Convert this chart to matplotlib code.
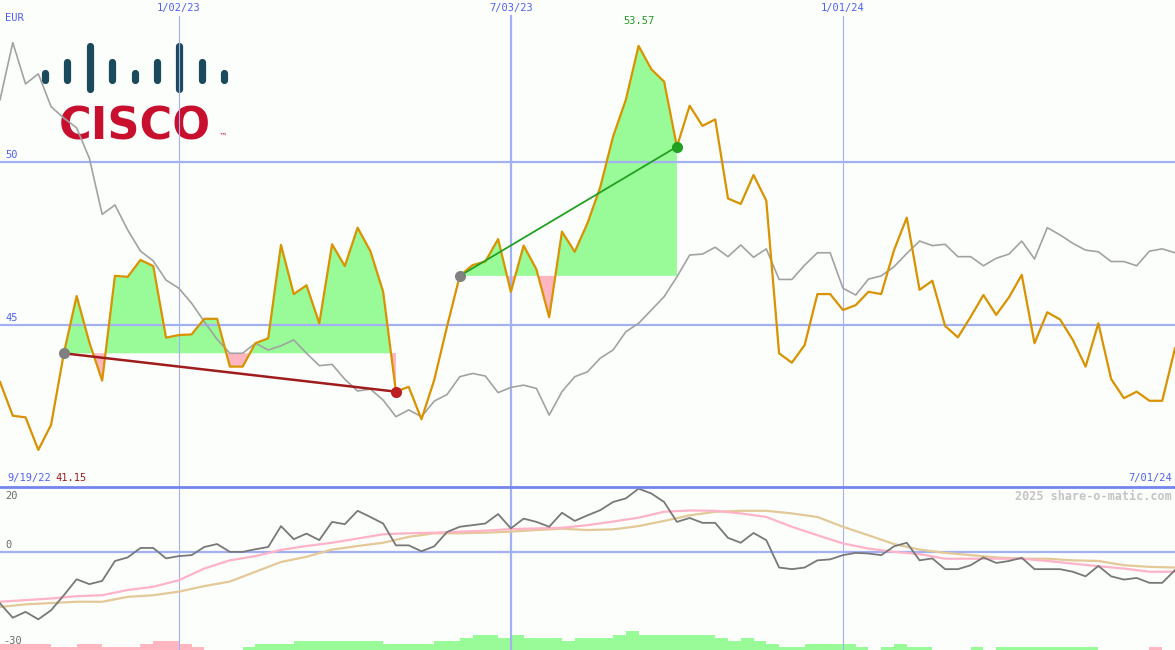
import numpy as np
import pandas as pd
import matplotlib
matplotlib.use("Agg")
import matplotlib.pyplot as plt

W, H = 1175, 650
MAIN_H = 487  # px height of the price panel

# --- weekly data ---
dates = pd.date_range("2022-09-26", periods=93, freq="7D")

price = [43.24, 42.20, 42.15, 41.15, 41.92, 44.12, 45.88, 44.45, 43.28, 46.50,
         46.47, 46.99, 46.80, 44.60, 44.68, 44.70, 45.18, 45.18, 43.71, 43.71,
         44.43, 44.58, 47.45, 45.94, 46.21, 45.04, 47.47, 46.80, 47.98, 47.26,
         46.01, 42.94, 43.09, 42.09, 43.30, 44.94, 46.50, 46.83, 46.94, 47.63,
         46.01, 47.43, 46.70, 45.23, 47.86, 47.24, 48.12, 49.23, 50.78, 51.91,
         53.57, 52.85, 52.47, 50.47, 51.73, 51.11, 51.31, 48.88, 48.71, 49.60,
         48.81, 44.12, 43.83, 44.37, 45.94, 45.94, 45.45, 45.60, 46.01, 45.94,
         47.29, 48.29, 46.07, 46.35, 44.96, 44.61, 45.24, 45.91, 45.30, 45.84,
         46.53, 44.43, 45.38, 45.16, 44.53, 43.71, 45.04, 43.33, 42.74, 42.94,
         42.66, 42.66, 44.27]

bench = [51.91, 53.67, 52.40, 52.71, 51.70, 51.35, 51.05, 50.11, 48.39, 48.68,
         47.91, 47.26, 46.96, 46.37, 46.12, 45.66, 45.09, 44.55, 44.12, 44.12,
         44.43, 44.22, 44.35, 44.53, 44.12, 43.74, 43.78, 43.32, 42.96, 43.02,
         42.68, 42.17, 42.38, 42.17, 42.65, 42.85, 43.40, 43.50, 43.42, 42.91,
         43.07, 43.14, 43.04, 42.22, 42.94, 43.40, 43.55, 43.97, 44.22, 44.78,
         45.04, 45.45, 45.86, 46.47, 47.14, 47.17, 47.38, 47.09, 47.45, 47.07,
         47.33, 46.39, 46.39, 46.83, 47.21, 47.21, 46.12, 45.91, 46.40, 46.50,
         46.78, 47.19, 47.57, 47.43, 47.47, 47.09, 47.09, 46.81, 47.04, 47.17,
         47.57, 47.02, 47.98, 47.76, 47.50, 47.29, 47.24, 46.94, 46.94, 46.81,
         47.26, 47.33, 47.21]

momentum = [-15.7, -20.1, -18.3, -20.6, -17.8, -13.2, -8.3, -9.8, -8.8, -2.7,
            -1.6, 1.3, 1.3, -1.9, -1.2, -0.9, 1.6, 2.5, 0.1, 0.1,
            0.9, 1.6, 8.0, 4.0, 5.7, 3.7, 9.3, 8.6, 12.7, 10.8,
            8.8, 2.1, 2.1, 0.3, 1.8, 6.2, 7.8, 8.3, 8.8, 11.7,
            7.3, 10.3, 9.3, 7.8, 12.1, 9.6, 11.3, 12.9, 15.4, 16.5,
            19.5, 18.0, 15.4, 9.3, 10.5, 9.0, 9.0, 4.4, 2.9, 5.9,
            3.7, -4.7, -5.2, -4.7, -2.5, -2.2, -0.9, -0.2, -0.4, -0.9,
            1.8, 2.9, -2.5, -1.9, -5.2, -5.2, -4.0, -1.6, -3.3, -2.7,
            -1.7, -5.2, -5.2, -5.2, -6.0, -7.4, -4.2, -7.4, -8.4, -7.9,
            -9.4, -9.4, -5.5]

# smoothed momentum lines, read every second week
ma_dates = dates[::2]
ma_fast = [-15.2, -14.7, -14.2, -13.5, -13.2, -11.6, -10.6, -8.6, -5.0, -2.5,
           -1.2, 0.7, 1.9, 2.9, 4.2, 5.5, 5.8, 6.0, 6.3, 6.6,
           7.1, 7.3, 7.5, 8.3, 9.4, 10.6, 12.4, 12.8, 12.7, 11.9,
           10.8, 7.8, 5.2, 2.7, 1.1, 0.1, -0.6, -2.0, -2.0, -2.0,
           -2.0, -2.7, -3.5, -4.3, -5.0, -6.0, -6.0]
ma_slow = [-16.8, -16.0, -15.6, -15.2, -15.2, -13.7, -13.2, -12.1, -10.4, -9.0,
           -6.0, -3.0, -1.4, 0.8, 1.9, 2.9, 4.7, 5.8, 5.8, 6.0,
           6.3, 6.8, 7.2, 6.8, 7.0, 8.0, 9.6, 11.3, 12.4, 12.7,
           12.7, 11.9, 10.8, 7.8, 5.2, 2.5, 0.8, -0.2, -0.9, -1.6,
           -2.0, -2.0, -2.5, -2.7, -4.0, -4.5, -4.7]

# signed weekly bars at the bottom (green up, pink down)
hist = [-1.9, -1.9, -1.9, -1.9, -1.0, -1.0, -1.9, -1.9, -1.0, -1.0,
        -1.0, -1.9, -2.8, -2.8, -1.9, -1.0, 0, 0, 0, 1.0,
        1.9, 1.9, 1.9, 2.8, 2.8, 2.8, 2.8, 2.8, 2.8, 2.8,
        1.9, 1.9, 1.9, 1.9, 2.8, 2.8, 3.8, 4.6, 4.6, 3.8,
        4.6, 3.8, 3.8, 3.8, 2.8, 3.8, 3.8, 3.8, 4.6, 5.8,
        4.6, 4.6, 4.6, 4.6, 4.6, 4.6, 3.8, 2.8, 3.8, 2.8,
        1.9, 1.0, 1.0, 1.9, 1.9, 1.9, 1.9, 1.0, 0, 1.0,
        1.9, 1.0, 1.0, 0, 0, 0, 1.0, 0, 1.0, 1.0,
        1.0, 1.0, 1.0, 1.0, 1.0, 1.0, 0, 0, 0, 0,
        -1.0, 0, 0]

trades = [(5, 31), (36, 53)]  # entry / exit week index
price_grid = [45, 50]
mom_grid = [0]
year_marks = ["2023-01-02", "2023-07-03", "2024-01-01"]
year_labels = ["1/02/23", "7/03/23", "1/01/24"]
start_label, end_label = "9/19/22", "7/01/24"

# --- colours ---
bg = "#fcfefc"
grid_c = "#a3b0f2"
sep_c = "#7585ee"
blue_txt = "#4f5ff5"
orange = "#d99200"
green_fill, pink_fill = "#98fb98", "#ffb6c1"
mono = "DejaVu Sans Mono"

fig = plt.figure(figsize=(W / 100, H / 100), dpi=100)
fig.patch.set_facecolor(bg)

# logo sits behind the price panel
lax = fig.add_axes([0, 0, 1, 1], zorder=0)
lax.set_xlim(0, W)
lax.set_ylim(H, 0)
lax.axis("off")
bar_tops = [69.3, 58.3, 42.7, 58.3, 69.3, 58.3, 42.7, 58.3, 69.3]
bar_bots = [83.3, 83.3, 92.7, 83.3, 83.3, 83.3, 92.7, 83.3, 83.3]
for k, (t, b) in enumerate(zip(bar_tops, bar_bots)):
    bx = 45 + 22.375 * k
    lax.plot([bx, bx], [t + 3.5, b - 3.5], color="#1b4a5c", lw=5.2,
             solid_capstyle="round")
lax.text(135, 140, "CISCO", ha="center", va="baseline", fontsize=32,
         fontweight="bold", color="#c8102e", family="DejaVu Sans")
lax.text(219, 139, "\u2122", ha="left", va="baseline", fontsize=6,
         color="#c8102e")

# --- price panel ---
ax = fig.add_axes([0, (H - MAIN_H) / H, 1, MAIN_H / H], zorder=1)
ax.patch.set_alpha(0)
ax.axis("off")
ax.set_xlim(dates[0], dates[-1])
ax.set_ylim(50 - 325 / 32.53, 50 + 162 / 32.53)

p = np.array(price)
for s, e in trades:
    lvl = p[s]
    seg_d = dates[s:e + 1]
    seg_p = p[s:e + 1]
    ax.fill_between(seg_d, lvl, seg_p, where=seg_p >= lvl, interpolate=True,
                    color=green_fill, lw=0, zorder=1)
    ax.fill_between(seg_d, lvl, seg_p, where=seg_p < lvl, interpolate=True,
                    color=pink_fill, lw=0, zorder=1)

for lv in price_grid:
    ax.axhline(lv, color=grid_c, lw=1.6, zorder=2)
    ax.annotate(str(lv), xy=(0, lv), xycoords=ax.get_yaxis_transform(),
                xytext=(4, 1.5), textcoords="offset points", va="bottom",
                ha="left", color=blue_txt, fontsize=7.5, family=mono)

top_tr = ax.get_xaxis_transform()
for d, lab in zip(year_marks, year_labels):
    d = pd.Timestamp(d)
    lw = 1.6 if d.month == 7 else 0.8
    ax.axvline(d, ymax=1 - 16 / MAIN_H, color=grid_c, lw=lw, zorder=2)
    ax.text(d, 1 - 8 / MAIN_H, lab, transform=top_tr, ha="center",
            va="center", color=blue_txt, fontsize=7.5, family=mono)

ax.plot(dates, bench, color="#a2a2a2", lw=1.2, zorder=3)
ax.plot(dates, price, color=orange, lw=1.6, zorder=4)

for s, e in trades:
    gain = p[e] > p[s]
    c = "#22a022" if gain else "#a01c1c"
    ax.plot([dates[s], dates[e]], [p[s], p[e]], color=c,
            lw=1.3 if gain else 1.8, zorder=5)
    ax.plot(dates[s], p[s], "o", ms=8, color="#808080", mec="none", zorder=6)
    ax.plot(dates[e], p[e], "o", ms=8, color="#22a022" if gain else "#bb1f1f",
            mec="none", zorder=6)

imax, imin = int(np.argmax(p)), int(np.argmin(p))
ax.text(dates[imax], 1 - 21 / MAIN_H, f"{p[imax]:.2f}", transform=top_tr,
        ha="center", va="center", color="#229922", fontsize=7.5, family=mono)
ax.text(5 / W, 1 - 18 / MAIN_H, "EUR", transform=ax.transAxes, ha="left",
        va="center", color=blue_txt, fontsize=7.5, family=mono)
ax.text(7 / W, 9 / MAIN_H, start_label, transform=ax.transAxes, ha="left",
        va="center", color=blue_txt, fontsize=7.5, family=mono)
ax.text(55 / W, 9 / MAIN_H, f"{p[imin]:.2f}", transform=ax.transAxes,
        ha="left", va="center", color="#a01c1c", fontsize=7.5, family=mono)
ax.text(1 - 3 / W, 9 / MAIN_H, end_label, transform=ax.transAxes, ha="right",
        va="center", color=blue_txt, fontsize=7.5, family=mono)

# --- momentum panel ---
ax2 = fig.add_axes([0, 0, 1, (H - MAIN_H) / H], zorder=1)
ax2.patch.set_alpha(0)
ax2.axis("off")
ax2.set_xlim(dates[0], dates[-1])
ax2.set_ylim(-30, 20)

hv = np.array(hist)
ax2.bar(dates, np.abs(hv), bottom=-30, width=pd.Timedelta(days=7),
        align="edge", color=[green_fill if v > 0 else pink_fill for v in hv],
        lw=0, zorder=1)
for lv in mom_grid:
    ax2.axhline(lv, color=grid_c, lw=1.6, zorder=2)
for d in year_marks:
    d = pd.Timestamp(d)
    ax2.axvline(d, color=grid_c, lw=1.6 if d.month == 7 else 0.8, zorder=2)
ax2.axhline(20, color=sep_c, lw=2.0, zorder=5, clip_on=False)

ax2.plot(ma_dates, ma_slow, color="#e3c898", lw=1.6, zorder=3)
ax2.plot(ma_dates, ma_fast, color="#ffb3c8", lw=1.6, zorder=3)
ax2.plot(dates, momentum, color="#787878", lw=1.3, zorder=4)

ax2.text(5 / W, 1 - 9 / 163, "20", transform=ax2.transAxes, ha="left",
         va="center", color="#6a6a6a", fontsize=7.5, family=mono)
ax2.annotate("0", xy=(0, 0), xycoords=ax2.get_yaxis_transform(),
             xytext=(4, 1.5), textcoords="offset points", va="bottom",
             ha="left", color="#6a6a6a", fontsize=7.5, family=mono)
ax2.text(3 / W, 9 / 163, "-30", transform=ax2.transAxes, ha="left",
         va="center", color="#6a6a6a", fontsize=7.5, family=mono)
ax2.text(1 - 3 / W, 1 - 9 / 163, "2025 share-o-matic.com",
         transform=ax2.transAxes, ha="right", va="center", color="#c4c4c4",
         fontsize=8.5, fontweight="bold", family=mono)

fig.savefig("out.png", dpi=100, facecolor=bg)
